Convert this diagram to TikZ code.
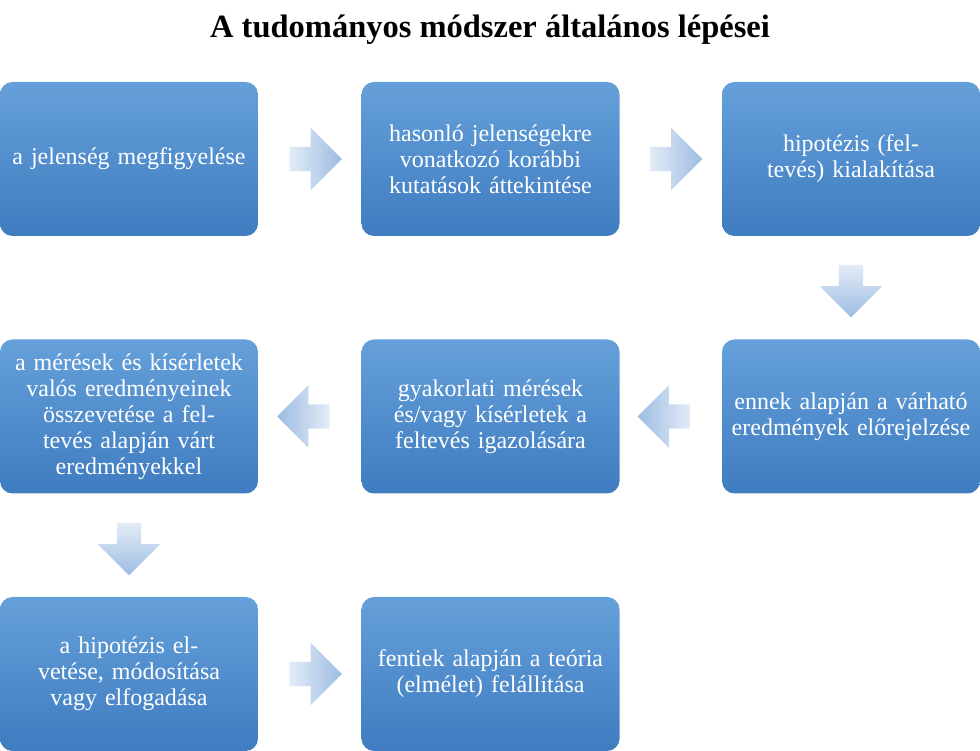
\documentclass[tikz,border=0pt]{standalone}
\usepackage{fontspec}
\setmainfont{Liberation Serif}
\usetikzlibrary{shapes.arrows}
\definecolor{boxtop}{HTML}{65A0DA}
\definecolor{boxbot}{HTML}{3F7CC0}
\definecolor{arrlight}{HTML}{E3ECF7}
\definecolor{arrdark}{HTML}{9DBCE2}
\tikzset{
  stepbox/.style={rectangle, rounded corners=5pt, minimum width=103.2pt, minimum height=61.6pt,
    top color=boxtop, bottom color=boxbot, draw=none, text=white, align=center,
    text width=96pt, font=\fontsize{9.6}{10.4}\selectfont},
  flowarrow/.style={single arrow, draw=none, minimum width=25pt, minimum height=21pt,
    single arrow head extend=5pt, inner sep=3pt}
}
\begin{document}
\begin{tikzpicture}[x=0.4pt,y=-0.4pt]
\useasboundingbox (0,0) rectangle (980,751);
\node[font=\fontsize{13}{15}\selectfont\bfseries] (title) at (490,30) {A tudományos módszer általános lépései};

\node[stepbox] (s1) at (129,159) {a jelenség megfigyelése};
\node[stepbox] (s2) at (490.5,159) {hasonló jelenségekre vonatkozó korábbi kutatások áttekintése};
\node[stepbox] (s3) at (851,159) {hipotézis (feltevés) kialakítása};
\node[stepbox] (s4) at (851,416.5) {ennek alapján a várható eredmények előrejelzése};
\node[stepbox] (s5) at (490.5,416.5) {gyakorlati mérések és/vagy kísérletek a feltevés igazolására};
\node[stepbox] (s6) at (129,416.5) {a mérések és kísérletek valós eredményeinek összevetése a feltevés alapján várt eredményekkel};
\node[stepbox] (s7) at (129,674) {a hipotézis elvetése, módosítása vagy elfogadása};
\node[stepbox] (s8) at (490.5,674) {fentiek alapján a teória (elmélet) felállítása};

% arrows between the steps
\node[flowarrow, left color=arrlight, right color=arrdark] (a12) at (309.5,159) {};
\node[flowarrow, left color=arrlight, right color=arrdark] (a23) at (670,159) {};
\node[flowarrow, shape border rotate=270, top color=arrlight, bottom color=arrdark] (a34) at (851,285) {};
\node[flowarrow, shape border rotate=180, right color=arrlight, left color=arrdark] (a45) at (670,416.5) {};
\node[flowarrow, shape border rotate=180, right color=arrlight, left color=arrdark] (a56) at (309.5,416.5) {};
\node[flowarrow, shape border rotate=270, top color=arrlight, bottom color=arrdark] (a67) at (129,543) {};
\node[flowarrow, left color=arrlight, right color=arrdark] (a78) at (309.5,674) {};
\end{tikzpicture}
\end{document}
